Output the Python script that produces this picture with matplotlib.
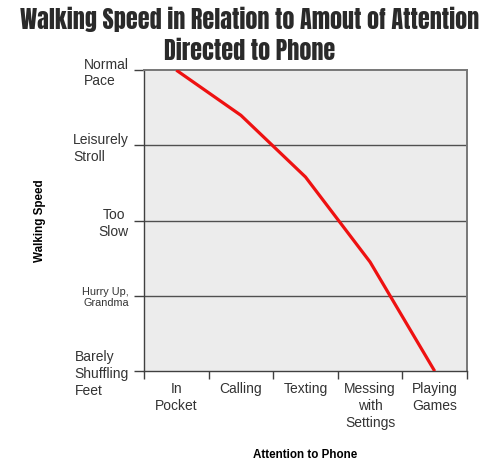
import numpy as np
import matplotlib
matplotlib.use("Agg")
import matplotlib.pyplot as plt

# Dữ liệu
attention = ["In\nPocket", "Calling", "Texting", "Messing\nwith\nSettings", "Playing\nGames"]
speed = [4.0, 3.40, 2.58, 1.45, 0.0]
speed_labels = ["Barely\nShuffling\nFeet", "Hurry Up,\nGrandma", "Too\nSlow",
                "Leisurely\nStroll", "Normal\nPace"]

plt.rcParams['font.family'] = ['Liberation Sans', 'DejaVu Sans']

fig = plt.figure(figsize=(5, 4.74), dpi=100)
ax = fig.add_axes([0.288, 0.217, 0.646, 0.635])
ax.set_facecolor("#ececec")

x = np.arange(len(attention)) + 0.5
ax.plot(x, speed, color="#ee1111", lw=2.3, solid_capstyle="butt", zorder=3)

ax.set_xlim(0, len(attention))
ax.set_ylim(0, len(speed_labels) - 1)

# lưới ngang
for yv in range(1, len(speed_labels) - 1):
    ax.axhline(yv, color="#505050", lw=1.0, zorder=1)

for s in ["left", "bottom"]:
    ax.spines[s].set_color("#404040")
    ax.spines[s].set_linewidth(1.0)
for s in ["top", "right"]:
    ax.spines[s].set_color("#777777")
    ax.spines[s].set_linewidth(1.4)

ax.set_yticks(range(len(speed_labels)))
ax.set_yticklabels(speed_labels, fontsize=10, color="#333333", linespacing=1.25)
ax.tick_params(axis="y", length=7, width=1, color="#404040", pad=4)
for lab in ax.get_yticklabels():
    lab.set_multialignment("left")
    if lab.get_text().startswith("Too"):
        lab.set_multialignment("center")
    if lab.get_text().startswith("Hurry"):
        lab.set_fontsize(7.8)
        lab.set_multialignment("right")
        lab.set_linespacing(1.15)

ax.set_xticks(range(len(attention) + 1))
ax.set_xticklabels([])
ax.tick_params(axis="x", which="major", length=6, width=1, color="#404040")
ax.set_xticks(x, minor=True)
ax.set_xticklabels(attention, minor=True, fontsize=10, color="#333333", linespacing=1.25)
ax.tick_params(axis="x", which="minor", length=0, pad=8)

ax.set_ylabel("Walking Speed", fontsize=8.4, fontweight="bold", labelpad=19)
ax.set_xlabel("Attention to Phone", fontsize=8.4, fontweight="bold", labelpad=14)

fig.text(0.5, 0.985, "Walking Speed in Relation to Amout of Attention\nDirected to Phone",
         ha="center", va="top", fontsize=17.4, color="#2a2a2a",
         family=["Anton", "Oswald", "Fjalla One", "Roboto Condensed", "DejaVu Sans"],
         linespacing=1.3)

fig.savefig("out.png", dpi=100)
